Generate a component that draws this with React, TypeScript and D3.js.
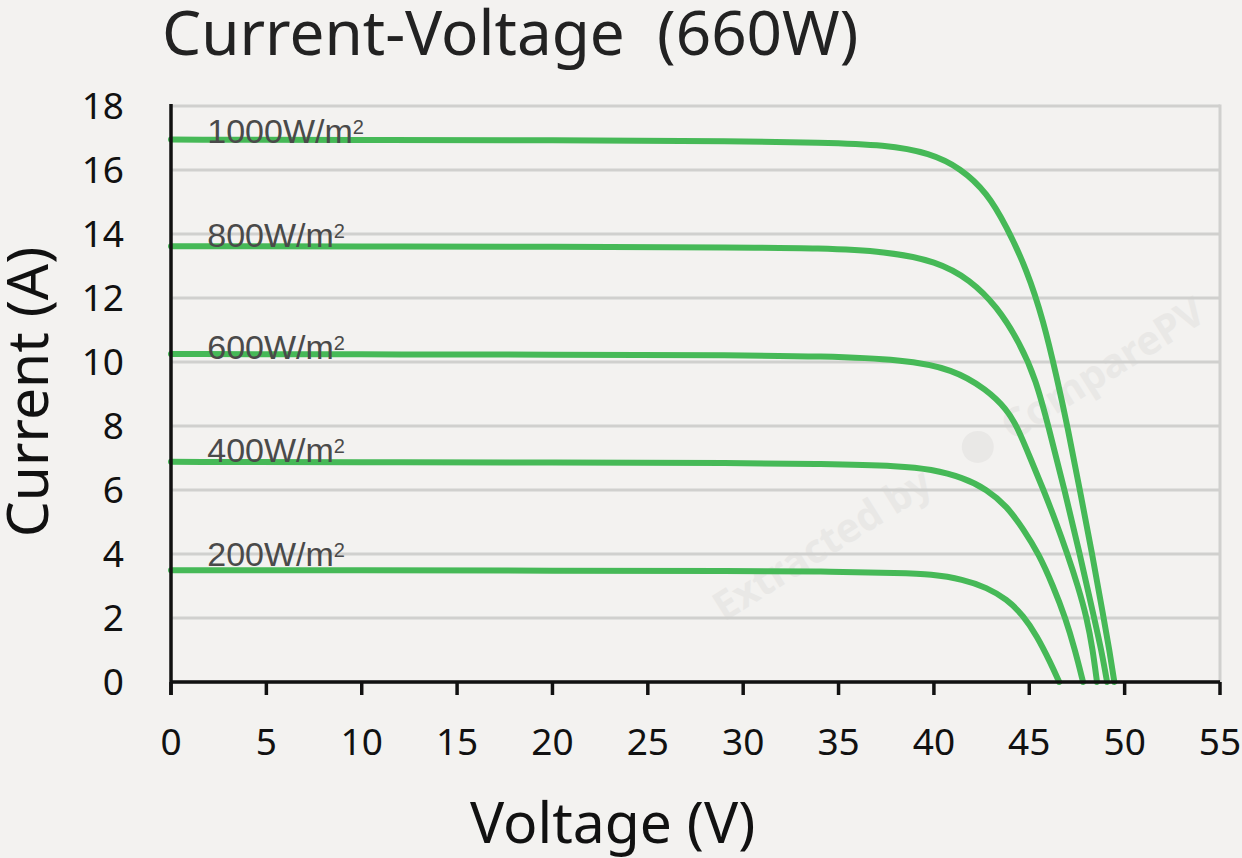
import { useEffect } from 'react'
import * as d3 from 'd3'

const TITLE = 'Current-Voltage  (660W)'
const X_LABEL = 'Voltage (V)'
const Y_LABEL = 'Current (A)'
const WATERMARK = ['Extracted by', 'ComparePV']

const X_TICKS = [0, 5, 10, 15, 20, 25, 30, 35, 40, 45, 50, 55]
const Y_TICKS = [0, 2, 4, 6, 8, 10, 12, 14, 16, 18]

// [voltage V, current A]
const IV_1000: [number, number][] = [
  [0, 16.95], [10, 16.94], [20, 16.93], [30, 16.9], [34, 16.86], [37.5, 16.79],
  [39.8, 16.53], [41.4, 16.06], [42.8, 15.28], [43.8, 14.24], [44.87, 12.89],
  [45.74, 11.3], [46.45, 9.5], [47.0, 8.0], [47.65, 6.0], [48.3, 4.0],
  [48.9, 2.0], [49.2, 1.0], [49.46, 0],
]
const IV_800: [number, number][] = [
  [0, 13.62], [10, 13.61], [20, 13.6], [30, 13.58], [34, 13.56], [37.5, 13.46],
  [40.15, 13.15], [41.9, 12.57], [43.3, 11.74], [44.5, 10.6], [45.35, 9.45],
  [46.0, 8.0], [46.85, 6.0], [47.65, 4.0], [48.4, 2.0], [48.78, 1.0], [49.08, 0],
]
const IV_600: [number, number][] = [
  [0, 10.25], [10, 10.24], [20, 10.23], [30, 10.21], [34, 10.18], [38.4, 10.08],
  [41.0, 9.78], [42.77, 9.14], [43.82, 8.52], [44.35, 8.0],
  [45.05, 7.0], [45.75, 6.0], [46.4, 5.0], [47.0, 4.0], [47.55, 3.0],
  [48.02, 2.0], [48.33, 1.0], [48.55, 0],
]
const IV_400: [number, number][] = [
  [0, 6.88], [10, 6.87], [20, 6.86], [30, 6.84], [34, 6.82], [38.4, 6.75],
  [39.8, 6.65], [41.55, 6.39], [42.77, 6.02], [43.82, 5.5], [44.7, 4.77],
  [45.5, 4.0], [46.25, 3.0], [46.9, 2.0], [47.4, 1.0], [47.82, 0],
]
const IV_200: [number, number][] = [
  [0, 3.49], [10, 3.49], [20, 3.48], [30, 3.47], [34, 3.46], [38.4, 3.4],
  [39.8, 3.37], [41.55, 3.21], [42.77, 2.95], [43.82, 2.59], [44.7, 2.07],
  [45.4, 1.44], [46.1, 0.62], [46.57, 0],
]

const IRRADIANCE = ['1000', '800', '600', '400', '200']
const CURVES = [IV_1000, IV_800, IV_600, IV_400, IV_200]
const LABEL_AT = [16.85, 13.6, 10.1, 6.86, 3.63]

const W = 1242
const H = 858
const GREEN = '#46b957'
const FONT = '"Noto Sans", "Open Sans", sans-serif'

export default function App() {
  useEffect(() => {
    document.body.style.margin = '0'
  }, [])

  const x = d3.scaleLinear().domain([0, 55]).range([171, 1220])
  const y = d3.scaleLinear().domain([0, 18]).range([682, 106])

  const line = d3.line<[number, number]>()
    .x(d => x(d[0]))
    .y(d => y(d[1]))
    .curve(d3.curveBasis)

  const bottom = y(0)

  return (
    <svg width={W} height={H} viewBox={`0 0 ${W} ${H}`}
      style={{ position: 'absolute', left: 0, top: 0, background: '#f3f2f0' }}>
      <rect width={W} height={H} fill="#f3f2f0" />

      {/* watermark */}
      <g transform="translate(724,622) rotate(-32)" fill="#e9e8e6" fontFamily={FONT} fontWeight={700} fontSize={40}>
        <text x={0} y={0}>{WATERMARK[0]}</text>
        <circle cx={308} cy={-14} r={16} />
        <text x={340} y={0}>{WATERMARK[1]}</text>
      </g>

      {/* grid */}
      {Y_TICKS.map(t => (
        <line key={t} x1={x(0)} x2={x(55)} y1={y(t)} y2={y(t)} stroke="#d0d0ce" strokeWidth={3} />
      ))}
      <line x1={x(55)} x2={x(55)} y1={y(18) - 1.5} y2={bottom} stroke="#d0d0ce" strokeWidth={3} />

      {/* curves */}
      {CURVES.map((c, i) => (
        <path key={IRRADIANCE[i]} d={line(c) ?? ''} fill="none" stroke={GREEN}
          strokeWidth={6} strokeLinecap="round" strokeLinejoin="round" />
      ))}

      {/* axes */}
      <line x1={x(0)} x2={x(55)} y1={bottom} y2={bottom} stroke="#111" strokeWidth={3.5} />
      <line x1={x(0)} x2={x(0)} y1={y(18) - 2} y2={bottom + 13} stroke="#111" strokeWidth={3.5} />
      {X_TICKS.map(t => (
        <line key={t} x1={x(t)} x2={x(t)} y1={bottom} y2={bottom + 13} stroke="#111" strokeWidth={3.5} />
      ))}

      {/* tick labels */}
      <g fontFamily={FONT} fontSize={37} fill="#111">
        {Y_TICKS.map(t => (
          <text key={t} x={124} y={y(t) + 13} textAnchor="end">{t}</text>
        ))}
        {X_TICKS.map(t => (
          <text key={t} x={x(t)} y={755} textAnchor="middle">{t}</text>
        ))}
      </g>

      {/* series labels */}
      <g fontFamily='"Liberation Sans", Arial, sans-serif' fontSize={34} fill="#4a4a4a">
        {IRRADIANCE.map((r, i) => (
          <text key={r} x={x(1.9)} y={y(LABEL_AT[i])}>
            {r}W/m<tspan fontSize={20} dy={-9}>2</tspan>
          </text>
        ))}
      </g>

      {/* titles */}
      <text x={162} y={55} fontFamily={FONT} fontSize={62} fill="#222"
        style={{ whiteSpace: 'pre' }}>{TITLE}</text>
      <text x={470} y={843} fontFamily={FONT} fontSize={57} fill="#111">{X_LABEL}</text>
      <text transform="translate(48,392) rotate(-90)" textAnchor="middle" fontFamily={FONT}
        fontSize={57} fill="#111">{Y_LABEL}</text>
    </svg>
  )
}
